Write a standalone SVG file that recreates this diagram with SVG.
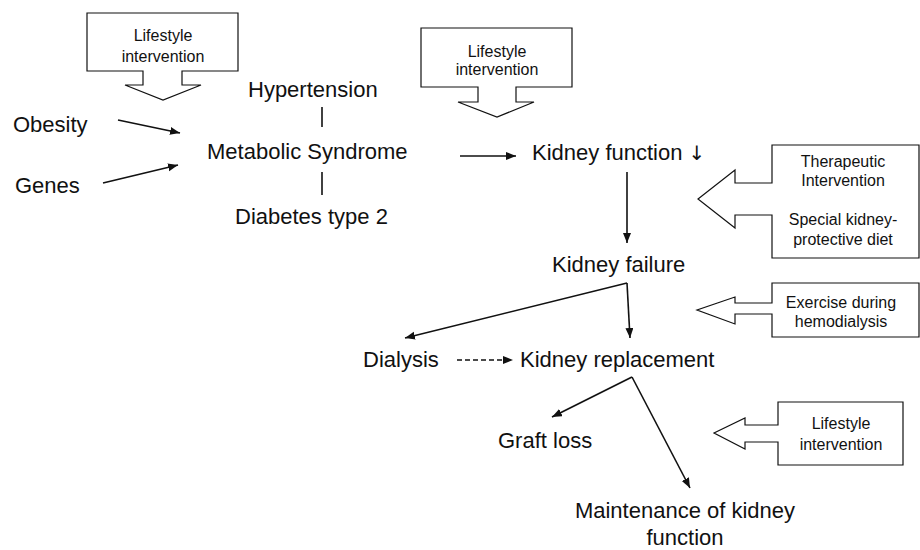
<svg xmlns="http://www.w3.org/2000/svg" width="920" height="550" viewBox="0 0 920 550">
<style>
.t{font-family:"Liberation Sans",Arial,sans-serif;font-size:22px;fill:#111}
.s{font-family:"Liberation Sans",Arial,sans-serif;font-size:16px;fill:#111;text-anchor:middle}
.co{fill:#fff;stroke:#111;stroke-width:1.2}
.ln{stroke:#111;stroke-width:1.6;fill:none}
</style>
<defs>
<marker id="ah" markerUnits="userSpaceOnUse" markerWidth="12" markerHeight="10" refX="10" refY="4" orient="auto">
<path d="M0,0 L10,4 L0,8 Z" fill="#111"/>
</marker>
</defs>
<rect width="920" height="550" fill="#fff"/>
<g id="callout1"><path class="co" d="M87,13 H238 V71 H182 V85 H201 L163,100 L125,85 H143 V71 H87 Z"/><text class="s" x="163" y="41">Lifestyle</text><text class="s" x="163" y="62">intervention</text></g>
<g id="callout2"><path class="co" d="M421,28 H572 V87 H516 V102 H534 L497,117 L458,102 H478 V87 H421 Z"/><text class="s" x="497" y="57">Lifestyle</text><text class="s" x="497" y="75">intervention</text></g>
<g id="callout3"><path class="co" d="M772,145 H919 V258 H772 V215 H735 V228 L698,199 L735,170 V183 H772 Z"/><text class="s" x="843" y="167">Therapeutic</text><text class="s" x="843" y="186">Intervention</text><text class="s" x="843" y="225">Special kidney-</text><text class="s" x="843" y="245">protective diet</text></g>
<g id="callout4"><path class="co" d="M772,283 H919 V337 H772 V314 H735 V324 L697,310 L735,297 V303 H772 Z"/><text class="s" x="841" y="308">Exercise during</text><text class="s" x="841" y="327">hemodialysis</text></g>
<g id="callout5"><path class="co" d="M778,402 H903 V465 H778 V442 H745 V449 L714,433 L745,418 V425 H778 Z"/><text class="s" x="841" y="429">Lifestyle</text><text class="s" x="841" y="450">intervention</text></g>
<g id="obesity"><text class="t" x="13" y="132">Obesity</text></g>
<g id="genes"><text class="t" x="15" y="193">Genes</text></g>
<g id="hypertension"><text class="t" x="248" y="97">Hypertension</text></g>
<g id="metabolic"><text class="t" x="207" y="159">Metabolic Syndrome</text></g>
<g id="diabetes"><text class="t" x="235" y="224">Diabetes type 2</text></g>
<g id="kfunction"><text class="t" x="532" y="160">Kidney function <tspan font-family="'DejaVu Sans',sans-serif" font-size="20" fill="#111">↓</tspan></text></g>
<g id="kfailure"><text class="t" x="552" y="272">Kidney failure</text></g>
<g id="dialysis"><text class="t" x="363" y="367">Dialysis</text></g>
<g id="kreplacement"><text class="t" x="520" y="367">Kidney replacement</text></g>
<g id="graftloss"><text class="t" x="498" y="448">Graft loss</text></g>
<g id="maintenance"><text class="t" x="685" y="518" text-anchor="middle">Maintenance of kidney</text><text class="t" x="685" y="545" text-anchor="middle">function</text></g>
<g id="connectors">
<line class="ln" x1="322" y1="107" x2="322" y2="127" stroke-width="1.2"/>
<line class="ln" x1="322" y1="172" x2="322" y2="195" stroke-width="1.2"/>
<line class="ln" x1="118" y1="120" x2="180" y2="133" marker-end="url(#ah)"/>
<line class="ln" x1="103" y1="183" x2="178" y2="165" marker-end="url(#ah)"/>
<line class="ln" x1="460" y1="156" x2="516" y2="156" marker-end="url(#ah)"/>
<line class="ln" x1="627" y1="172" x2="627" y2="243" marker-end="url(#ah)"/>
<line class="ln" x1="627" y1="283" x2="405" y2="338" marker-end="url(#ah)"/>
<line class="ln" x1="627" y1="283" x2="630" y2="338" marker-end="url(#ah)"/>
<line class="ln" x1="457" y1="360" x2="513" y2="360" stroke-dasharray="5,3" marker-end="url(#ah)"/>
<line class="ln" x1="632" y1="377" x2="552" y2="417" marker-end="url(#ah)"/>
<line class="ln" x1="632" y1="377" x2="690" y2="488" marker-end="url(#ah)"/>
</g>
</svg>
